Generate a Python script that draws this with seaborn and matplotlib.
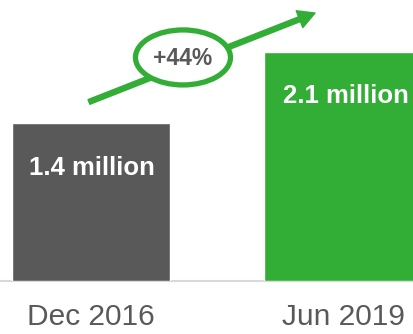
import matplotlib
matplotlib.use("Agg")
import matplotlib.pyplot as plt
import seaborn as sns
import pandas as pd
from matplotlib.patches import Ellipse

categories = ["Dec 2016", "Jun 2019"]
values = [1.45, 2.1]
bar_labels = ["1.4 million", "2.1 million"]
change_label = "+44%"
colors = ["#595959", "#32AD36"]

sns.set_theme(style="white")
plt.rcParams["font.family"] = ["Liberation Sans", "DejaVu Sans"]

df = pd.DataFrame({"period": categories, "value": values})

fig = plt.figure(figsize=(4.14, 3.34), dpi=100)
ax = fig.add_axes([0, 53 / 334, 1, 281 / 334])

sns.barplot(data=df, x="period", y="value", hue="period", palette=colors,
            width=0.627, legend=False, ax=ax, saturation=1)

ax.set_xlim(-91 / 252, (414 - 91) / 252)
ax.set_ylim(0, 281 / 109.05)
for s in ax.spines.values():
    s.set_visible(False)
ax.set_yticks([])
ax.set_xlabel("")
ax.set_ylabel("")
ax.tick_params(axis="x", length=0, pad=16, labelsize=21.5, labelcolor="#595959")
ax.axhline(0, color="#d9d9d9", lw=1.5, zorder=0, clip_on=False)

# value labels inside bars
label_y = [1.036, 1.70]
for i, (lab, y) in enumerate(zip(bar_labels, label_y)):
    ax.text(i + (0.01 if i == 1 else 0.005), y, lab, ha="center", va="center",
            color="white", fontsize=18.5, fontweight="bold")

# growth arrow
start = (-0.008, 1.642)
end = (0.889, 2.457)
ax.annotate("", xy=end, xytext=start,
            arrowprops=dict(width=3.6, headwidth=13, headlength=12,
                            color=colors[1], shrink=0),
            zorder=3)

center = (0.365, 2.05)
ell = Ellipse(center, width=95 / 252, height=55 / 109.05, facecolor="white",
              edgecolor=colors[1], lw=3.8, zorder=4, clip_on=False)
ax.add_patch(ell)
ax.text(center[0], center[1] - 0.01, change_label, ha="center", va="center",
        fontsize=16.5, fontweight="bold", color="#595959", zorder=5)

fig.savefig("out.png", dpi=100)
